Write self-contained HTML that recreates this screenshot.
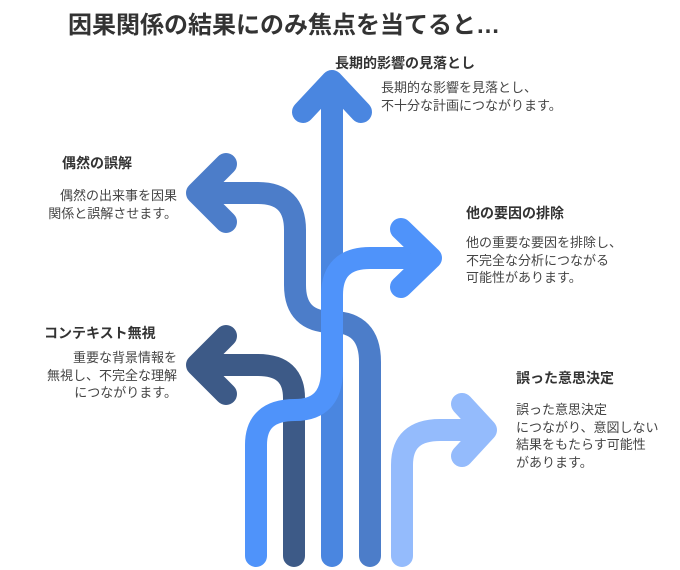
<!DOCTYPE html>
<html><head><meta charset="utf-8"><style>
body{margin:0;width:680px;height:570px;background:#fff;position:relative;overflow:hidden;font-family:"Liberation Sans","Noto Sans CJK JP",sans-serif;}
.t{position:absolute;white-space:nowrap;color:#333;}
.h{font-weight:bold;font-size:14px;color:#333;}
.b{font-size:13px;line-height:17.5px;color:#444;}
.r{text-align:right;}
</style></head><body>
<svg width="680" height="570" style="position:absolute;left:0;top:0" fill="none" stroke-linecap="round" stroke-linejoin="round" stroke-width="22">
<path d="M370 556 V362 Q370 322 332 322 Q295 322 295 285 V230 Q295 193 258 193 H202" stroke="#4c7dc9"/>
<path d="M226 164 L197 193 L226 222" stroke="#4c7dc9"/>
<path d="M294 556 V398 Q294 365 258 365 H202" stroke="#3d5a87"/>
<path d="M226 336 L197 365 L226 394" stroke="#3d5a87"/>
<path d="M332 556 V82" stroke="#4a86e0"/>
<path d="M303 112 L332 81 L361 112" stroke="#4a86e0"/>
<path d="M256 556 V445 Q256 410 295 410 Q332 410 332 370 V295 Q332 258 370 258 H428" stroke="#4f93fa"/>
<path d="M401 229 L431 258 L401 287" stroke="#4f93fa"/>
<path d="M402 556 V465 Q402 430 440 430 H476" stroke="#94bbfc"/>
<path d="M462 404 L486 430 L462 456" stroke="#94bbfc"/>
</svg>
<div class="t" style="left:68px;top:5px;font-size:24px;font-weight:bold;color:#333">因果関係の結果にのみ焦点を当てると…</div>
<div class="t h" style="left:335px;top:53px">長期的影響の見落とし</div>
<div class="t b" style="left:381px;top:79px">長期的な影響を見落とし、<br>不十分な計画につながります。</div>
<div class="t h" style="left:62px;top:153px">偶然の誤解</div>
<div class="t b r" style="right:503px;top:187px">偶然の出来事を因果<br>関係と誤解させます。</div>
<div class="t h" style="left:466px;top:203px">他の要因の排除</div>
<div class="t b" style="left:466px;top:234px">他の重要な要因を排除し、<br>不完全な分析につながる<br>可能性があります。</div>
<div class="t h" style="left:44px;top:323px">コンテキスト無視</div>
<div class="t b r" style="right:503px;top:349px">重要な背景情報を<br>無視し、不完全な理解<br>につながります。</div>
<div class="t h" style="left:516px;top:368px">誤った意思決定</div>
<div class="t b" style="left:516px;top:401px">誤った意思決定<br>につながり、意図しない<br>結果をもたらす可能性<br>があります。</div>
</body></html>
